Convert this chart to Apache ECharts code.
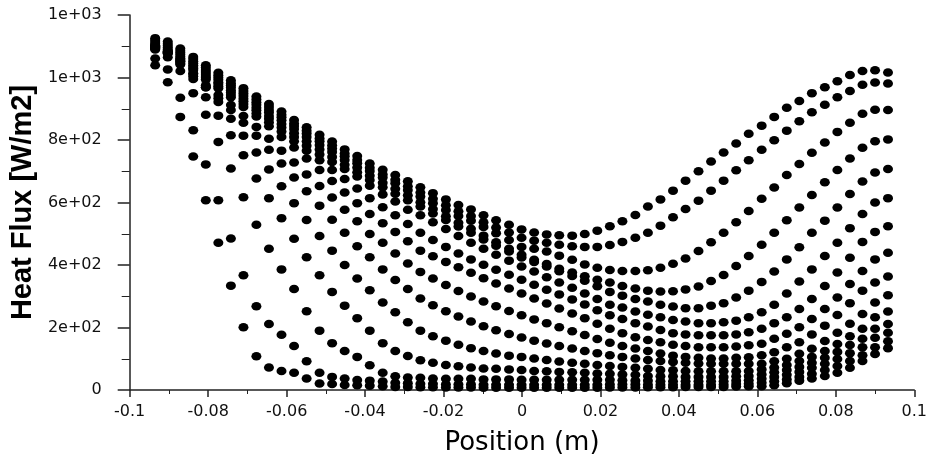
<!DOCTYPE html>
<html>
<head>
<meta charset="utf-8">
<script src="https://cdn.jsdelivr.net/npm/echarts@6/dist/echarts.min.js"></script>
<style>
html,body{margin:0;padding:0;background:#fff;}
#chart{width:930px;height:461px;}
</style>
</head>
<body>
<div id="chart"></div>
<script>
// Position (m) of the wall nodes
const xPositions = [-0.0935,-0.0903,-0.0871,-0.0838,-0.0806,-0.0774,-0.0742,-0.0710,-0.0677,-0.0645,
  -0.0613,-0.0581,-0.0549,-0.0516,-0.0484,-0.0452,-0.0420,-0.0388,-0.0355,-0.0323,
  -0.0291,-0.0259,-0.0227,-0.0194,-0.0162,-0.0130,-0.0098,-0.0066,-0.0033,-0.0001,
  0.0031,0.0063,0.0095,0.0128,0.0160,0.0192,0.0224,0.0256,0.0289,0.0321,
  0.0353,0.0385,0.0417,0.0450,0.0482,0.0514,0.0546,0.0578,0.0611,0.0643,
  0.0675,0.0707,0.0739,0.0772,0.0804,0.0836,0.0868,0.0900,0.0933];

// Heat flux (W/m2), one row of nodes per array
const curve01 = [1126,1115,1093,1066,1039,1015,991,966,939,915,891,864,841,817,795,770,749,725,705,688,668,649,630,610,592,578,559,543,529,514,504,498,495,494,499,510,524,540,560,587,610,638,670,700,731,760,789,820,846,874,903,925,950,969,988,1008,1021,1023,1016];
const curve02 = [1120,1108,1086,1059,1032,1007,982,957,930,906,881,853,830,805,783,757,736,711,690,673,652,632,612,591,572,557,537,520,504,487,478,471,465,460,458,458,464,474,487,503,526,553,579,606,638,670,703,735,769,799,830,860,889,913,937,957,977,984,981];
const curve03 = [1114,1102,1080,1052,1024,1000,975,949,921,896,873,845,821,796,773,748,726,701,680,662,640,619,598,576,557,542,522,502,480,458,452,443,430,417,402,391,384,381,381,383,391,404,421,445,473,503,537,573,612,648,688,723,759,792,826,855,884,897,896];
const curve04 = [1108,1096,1074,1046,1018,993,968,941,913,888,863,835,810,784,762,736,712,686,663,644,623,601,579,556,535,516,494,473,452,433,417,403,388,376,364,353,344,333,325,318,315,316,322,331,349,368,397,429,465,503,543,584,624,665,704,741,775,796,802];
const curve05 = [1102,1090,1067,1039,1011,985,959,932,903,877,851,822,796,770,746,721,697,672,649,628,607,587,565,544,523,503,482,462,443,424,410,395,380,365,350,332,314,302,291,283,273,267,262,262,270,278,296,318,346,379,418,457,503,542,584,627,667,696,707];
const curve06 = [1097,1085,1062,1034,1005,979,952,924,895,868,840,810,782,754,730,707,683,654,626,603,577,559,537,515,493,471,452,433,414,395,379,361,344,327,309,291,273,264,251,241,233,224,219,214,214,217,222,233,249,273,309,347,386,429,471,518,563,600,614];
const curve07 = [1094,1081,1058,1029,999,972,944,915,885,857,827,796,766,735,704,675,645,614,585,559,531,503,480,458,437,418,401,385,369,353,337,321,306,290,274,255,239,227,214,203,192,182,178,175,175,175,178,185,196,214,233,259,291,333,376,423,474,506,524];
const curve08 = [1092,1078,1054,1024,994,966,937,906,875,844,810,776,741,704,669,632,598,563,534,506,476,446,428,410,393,375,358,341,325,309,293,277,261,245,230,212,196,182,169,160,153,145,141,137,137,137,139,143,148,164,180,201,227,259,296,339,381,418,439];
const curve09 = [1100,1082,1050,1011,975,944,912,877,842,804,766,728,690,653,616,577,540,499,471,437,405,378,357,336,317,299,283,268,253,239,226,214,201,188,176,163,151,141,133,125,117,110,106,103,101,101,103,105,111,121,137,153,178,206,240,278,318,344,363];
const curve10 = [1099,1080,1045,1004,969,934,896,855,814,769,725,680,636,590,545,503,460,425,386,352,323,293,271,252,235,219,204,191,179,168,158,149,141,133,125,118,111,106,101,96,93,90,87,85,84,84,84,84,84,92,100,116,132,157,183,212,243,280,303];
const curve11 = [1103,1084,1052,1014,969,922,868,814,760,706,652,598,544,493,446,400,357,319,280,249,217,190,172,158,145,134,125,117,110,106,101,96,91,87,84,80,77,74,71,68,64,63,61,60,60,60,60,61,66,72,80,93,106,125,147,172,196,233,251];
const curve12 = [1096,1077,1042,995,937,878,815,751,677,614,550,484,425,367,314,270,230,190,150,125,109,95,87,80,76,72,69,68,66,64,61,60,58,57,55,53,52,50,49,45,44,44,42,42,42,42,44,45,50,57,64,74,87,103,122,144,164,196,211];
const curve13 = [1090,1065,1021,950,881,794,709,617,529,452,386,323,252,190,150,125,106,79,55,44,40,39,37,36,36,36,34,34,34,33,33,33,33,33,33,33,33,31,30,30,28,28,28,28,28,28,30,31,36,42,49,58,71,84,99,118,137,167,183];
const curve14 = [1061,1026,935,831,722,607,485,367,268,211,177,141,92,55,42,37,32,30,27,23,22,20,20,18,18,18,17,17,17,17,17,17,17,17,17,17,18,18,18,17,17,17,17,17,17,18,19,20,23,28,34,42,52,64,77,93,111,137,156];
const curve15 = [1039,985,874,747,607,471,334,201,108,72,61,55,37,21,19,16,15,14,12,10,10,9,9,8,8,8,7,7,7,7,7,7,7,7,7,7,8,8,8,9,9,9,10,10,10,10,11,12,12,15,22,30,37,45,55,71,93,115,134];

const curves = [curve01,curve02,curve03,curve04,curve05,curve06,curve07,curve08,
  curve09,curve10,curve11,curve12,curve13,curve14,curve15];

const xTicks = {min: -0.1, max: 0.1, step: 0.02};
const yTicks = {min: 0, max: 1200, step: 200};

const chart = echarts.init(document.getElementById('chart'), null, {renderer: 'canvas'});

function yFmt(v) {
  if (v === 0) return '0';
  return v.toExponential(0).replace(/e([+-])(\d)$/, 'e$10$2');
}
function xFmt(v) {
  return String(+v.toFixed(2));
}

const axisColor = '#222';
const labelFont = 'DejaVu Sans';

chart.setOption({
  animation: false,
  backgroundColor: '#fff',
  grid: {left: 126, right: 10, top: 15, bottom: 68, containLabel: false},
  xAxis: {
    type: 'value',
    min: xTicks.min, max: xTicks.max, interval: xTicks.step,
    name: 'Position (m)',
    nameLocation: 'middle',
    nameGap: 40,
    nameTextStyle: {fontFamily: labelFont, fontSize: 26, color: '#000'},
    axisLine: {show: true, onZero: false, lineStyle: {color: axisColor, width: 1.5}},
    axisTick: {show: true, inside: false, length: 7, lineStyle: {color: axisColor, width: 1.5}},
    minorTick: {show: true, splitNumber: 2, length: 4, lineStyle: {color: axisColor, width: 1}},
    axisLabel: {formatter: xFmt, fontFamily: labelFont, fontSize: 16, color: '#111', margin: 14},
    splitLine: {show: false}
  },
  yAxis: {
    type: 'value',
    min: yTicks.min, max: yTicks.max, interval: yTicks.step,
    name: 'Heat Flux [W/m2]',
    nameLocation: 'middle',
    nameGap: 79,
    nameRotate: 90,
    nameTextStyle: {fontFamily: 'Liberation Sans', fontWeight: 'bold', fontSize: 29, color: '#000'},
    axisLine: {show: true, onZero: false, lineStyle: {color: axisColor, width: 1.5}},
    axisTick: {show: true, inside: false, length: 12, lineStyle: {color: axisColor, width: 1.5}},
    minorTick: {show: true, splitNumber: 2, length: 8, lineStyle: {color: axisColor, width: 1}},
    axisLabel: {formatter: yFmt, fontFamily: labelFont, fontSize: 16, color: '#111', margin: 28},
    splitLine: {show: false}
  },
  series: curves.map(function (c) {
    return {
      type: 'scatter',
      symbol: 'circle',
      symbolSize: [10, 8.5],
      itemStyle: {color: '#000', opacity: 1},
      emphasis: {disabled: true},
      data: xPositions.map(function (x, i) { return [x, c[i]]; })
    };
  })
});
</script>
</body>
</html>
